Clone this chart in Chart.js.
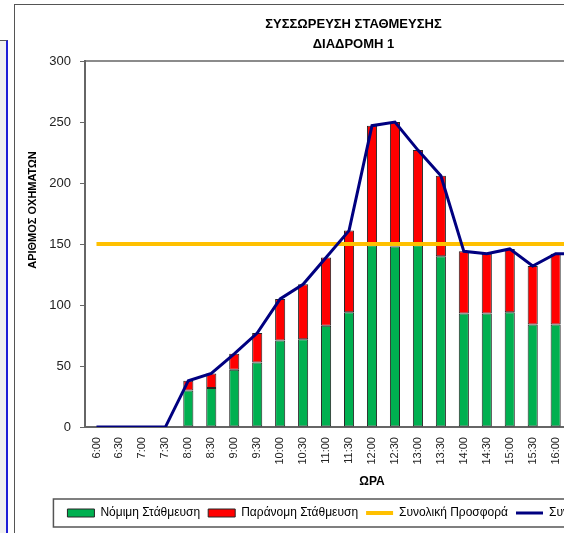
<!DOCTYPE html>
<html>
<head>
<meta charset="utf-8">
<script src="https://cdn.jsdelivr.net/npm/chart.js@4.4.1/dist/chart.umd.min.js"></script>
<style>
  body { margin: 0; background: #fff; overflow: hidden; width: 564px; height: 533px; position: relative; }
  .side { position: absolute; left: 0; top: 40px; width: 6px; height: 500px; background: #f0f0f0; border-top: 1px solid #555; border-right: 2px solid #1f1fd8; }
  .frame { position: absolute; left: 14px; top: 4px; width: 685px; height: 540px; border: 1px solid #555; background: #fff; }
  canvas { display: block; }
</style>
</head>
<body>
<div class="side"></div>
<div class="frame"><canvas id="myChart" width="685" height="540"></canvas></div>
<script>
// ώρες (η γραφική συνεχίζει δεξιά, έξω από το κάδρο)
const ores = ['6:00', '6:30', '7:00', '7:30', '8:00', '8:30', '9:00', '9:30', '10:00', '10:30',
    '11:00', '11:30', '12:00', '12:30', '13:00', '13:30', '14:00', '14:30', '15:00', '15:30',
    '16:00', '16:30', '17:00', '17:30', '18:00'];
const nomimi = [0, 0, 0, 0, 30, 32, 47, 53, 71, 72, 83, 94, 149, 148, 149, 140, 93, 93, 94, 84, 84];
const paranomi = [0, 0, 0, 0, 8, 12, 13, 24, 34, 45, 56, 67, 98, 102, 78, 66, 51, 49, 52, 48, 58];
const prosfora = [150, 150, 150, 150, 150, 150, 150, 150, 150, 150, 150, 150, 150, 150, 150, 150, 150, 150, 150, 150, 150, 150];
const synolo = [0, 0, 0, 0, 38, 44, 60, 77, 105, 117, 139, 161, 247, 250, 227, 206, 144, 142, 146, 132, 142, 142];
const yTicks = [0, 50, 100, 150, 200, 250, 300];

Chart.defaults.font.family = "'Liberation Sans', Arial, sans-serif";
Chart.defaults.color = '#222';

// περίγραμμα περιοχής γραφήματος, τίτλος άξονα y και κουτί υπομνήματος
const extras = {
    id: 'extras',
    beforeDatasetsDraw(chart) {
        const {ctx, chartArea: a} = chart;
        ctx.save();
        ctx.strokeStyle = '#666';
        ctx.lineWidth = 1.5;
        ctx.beginPath();
        ctx.moveTo(a.left, a.top);
        ctx.lineTo(a.right, a.top);
        ctx.lineTo(a.right, a.bottom);
        ctx.stroke();
        ctx.restore();
    },
    afterDraw(chart) {
        const {ctx, chartArea: a} = chart;
        ctx.save();
        ctx.translate(18, a.top + (a.bottom - a.top) * 0.407);
        ctx.rotate(-Math.PI / 2);
        ctx.font = "bold 11px 'Liberation Sans', Arial, sans-serif";
        ctx.fillStyle = '#000';
        ctx.textAlign = 'center';
        ctx.textBaseline = 'middle';
        ctx.fillText('ΑΡΙΘΜΟΣ ΟΧΗΜΑΤΩΝ', 0, 0);
        ctx.restore();

        const boxes = chart.legend.legendHitBoxes;
        if (!boxes || !boxes.length) return;
        const x1 = Math.min(...boxes.map(b => b.left)) - 14;
        const x2 = Math.max(...boxes.map(b => b.left + b.width)) + 12;
        const cy = boxes[0].top + boxes[0].height / 2;
        ctx.save();
        ctx.strokeStyle = '#555';
        ctx.lineWidth = 1.5;
        ctx.strokeRect(x1, cy - 14, x2 - x1, 28);
        ctx.restore();
    }
};

const ctx = document.getElementById('myChart').getContext('2d');
const myChart = new Chart(ctx, {
    type: 'bar',
    data: {
        labels: ores,
        datasets: [{
            label: 'Νόμιμη Στάθμευση',
            data: nomimi,
            backgroundColor: '#00B050',
            borderColor: '#262626',
            borderWidth: 1,
            borderSkipped: false,
            stack: 'stathmeusi',
            barPercentage: 0.44,
            categoryPercentage: 1,
            order: 2
        }, {
            label: 'Παράνομη Στάθμευση',
            data: paranomi,
            backgroundColor: '#FF0000',
            borderColor: '#262626',
            borderWidth: 1,
            borderSkipped: false,
            stack: 'stathmeusi',
            barPercentage: 0.44,
            categoryPercentage: 1,
            order: 2
        }, {
            type: 'line',
            label: 'Συνολική Προσφορά',
            data: prosfora,
            borderColor: '#FFC000',
            backgroundColor: '#FFC000',
            borderWidth: 4,
            pointRadius: 0,
            stack: 'prosfora',
            order: 1
        }, {
            type: 'line',
            label: 'Συνολική Ζήτηση',
            data: synolo,
            borderColor: '#000080',
            backgroundColor: '#000080',
            borderWidth: 3,
            pointRadius: 0,
            stack: 'synolo',
            order: 0
        }]
    },
    options: {
        responsive: false,
        animation: false,
        layout: { padding: { left: 33, right: 41, top: 0, bottom: 16 } },
        scales: {
            x: {
                stacked: true,
                grid: { display: false },
                border: { color: '#666', width: 2 },
                ticks: { minRotation: 90, maxRotation: 90, autoSkip: false, padding: 2, font: { size: 11 } },
                title: { display: true, text: 'ΩΡΑ', color: '#000', font: { size: 12, weight: 'bold' }, padding: { top: 8, bottom: 10 } }
            },
            y: {
                stacked: true,
                min: 0,
                max: 300,
                afterBuildTicks: (axis) => { axis.ticks = yTicks.map(v => ({ value: v })); },
                afterFit: (axis) => { axis.width = 37; },
                ticks: { padding: 9, font: { size: 13 } },
                grid: { drawOnChartArea: false, tickLength: 5, color: '#666' },
                border: { color: '#666', width: 2 }
            }
        },
        plugins: {
            title: {
                display: true,
                text: ['ΣΥΣΣΩΡΕΥΣΗ ΣΤΑΘΜΕΥΣΗΣ', 'ΔΙΑΔΡΟΜΗ 1'],
                color: '#000',
                font: { size: 13, weight: 'bold', lineHeight: 1.5 },
                padding: { top: 10, bottom: 7 }
            },
            legend: {
                position: 'bottom',
                labels: {
                    usePointStyle: true,
                    pointStyleWidth: 27,
                    boxHeight: 8,
                    padding: 8,
                    color: '#000',
                    font: { size: 12 },
                    sort: (a, b) => a.datasetIndex - b.datasetIndex,
                    generateLabels: (chart) => Chart.defaults.plugins.legend.labels.generateLabels(chart).map(l => {
                        l.pointStyle = chart.data.datasets[l.datasetIndex].type === 'line' ? 'line' : 'rect';
                        return l;
                    })
                }
            },
            tooltip: { enabled: false }
        }
    },
    plugins: [extras]
});
</script>
</body>
</html>
